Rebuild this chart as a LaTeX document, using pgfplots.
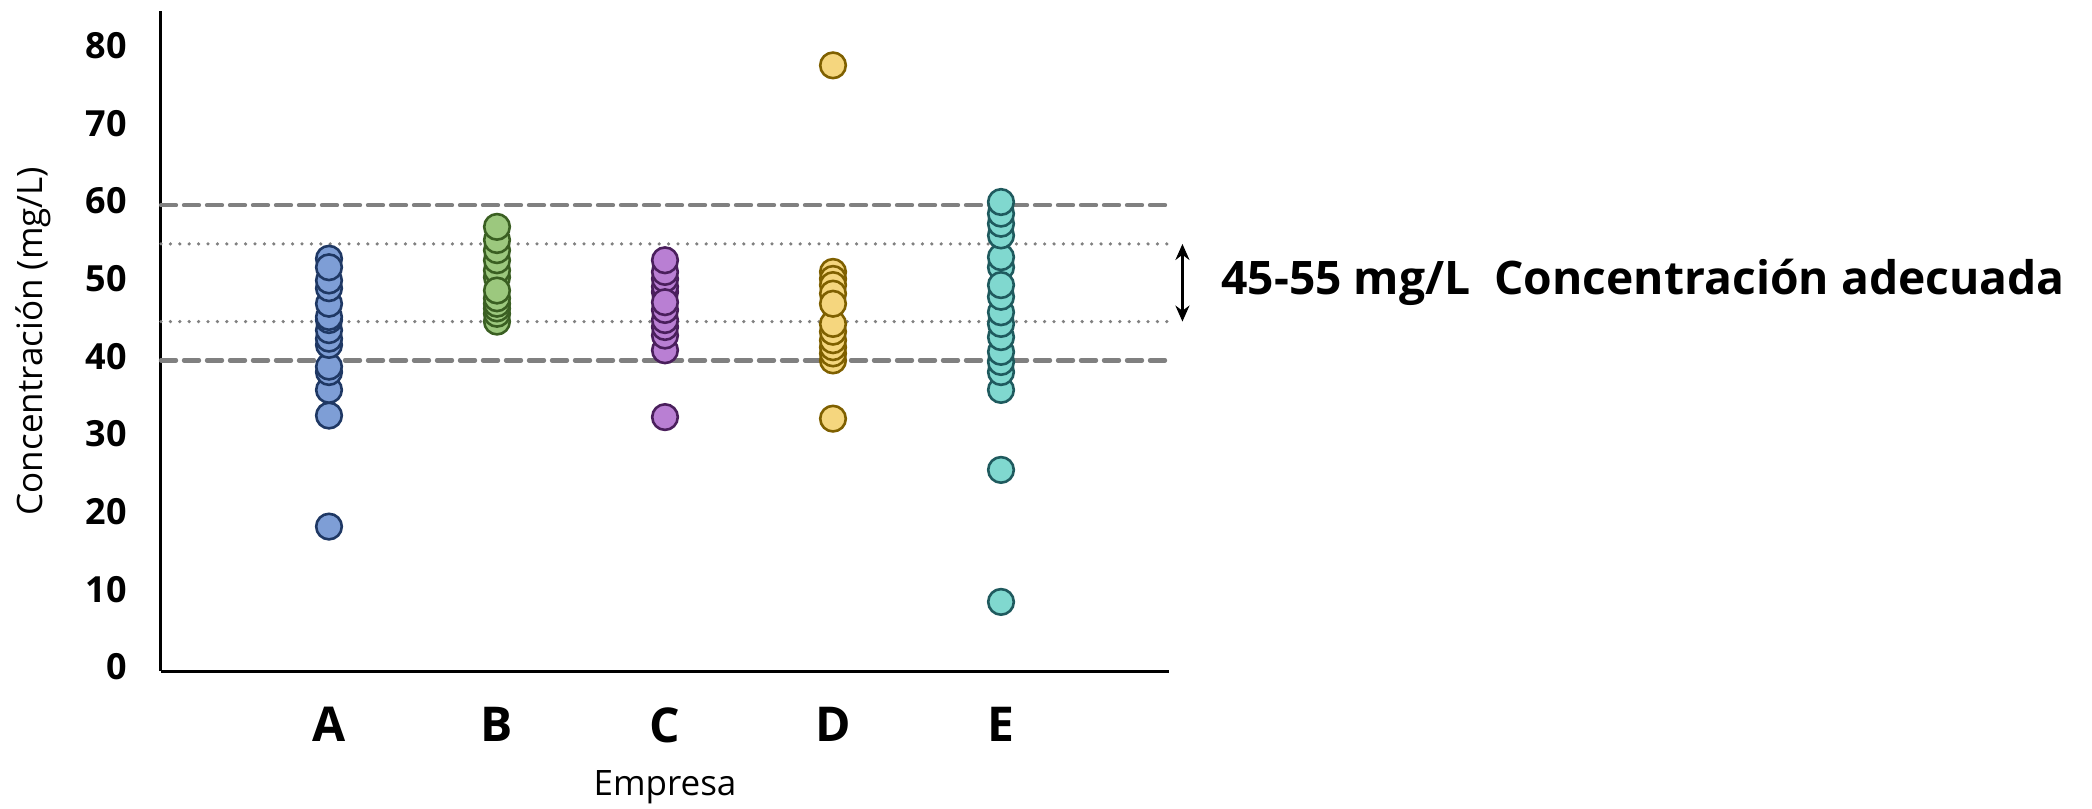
\documentclass[border=0pt]{standalone}
\usepackage{pgfplots}
\pgfplotsset{compat=1.18}
\usepackage{fontspec}
\setmainfont{Open Sans}
\usetikzlibrary{arrows.meta}
\definecolor{Afill}{HTML}{7E9ED6}\definecolor{Aedge}{HTML}{1F3864}
\definecolor{Bfill}{HTML}{9CC87E}\definecolor{Bedge}{HTML}{3A5F22}
\definecolor{Cfill}{HTML}{B97FD3}\definecolor{Cedge}{HTML}{4A1F5C}
\definecolor{Dfill}{HTML}{F5D67E}\definecolor{Dedge}{HTML}{7F6000}
\definecolor{Efill}{HTML}{80D8CF}\definecolor{Eedge}{HTML}{1F5A5E}
\definecolor{refgray}{HTML}{808080}
\begin{document}
\begin{tikzpicture}
\begin{axis}[
  scale only axis, width=504pt, height=330pt,
  xmin=0, xmax=6, ymin=0, ymax=85,
  axis x line*=bottom, axis y line*=left,
  axis line style={line width=1.5pt, -, black},
  xtick={1,2,3,4,5}, xticklabels={A,B,C,D,E},
  ytick={0,10,20,30,40,50,60,70,80},
  major tick length=0pt,
  /pgf/number format/assume math mode=true,
  yticklabel style={font=\fontsize{18}{20}\selectfont\bfseries, anchor=east, inner sep=0pt, xshift=-17pt, yshift=2pt},
  xticklabel style={font=\fontsize{24}{27}\selectfont\bfseries, anchor=north, inner sep=0pt, yshift=-18pt},
  xlabel={Empresa}, ylabel={Concentración (mg/L)},
  xlabel style={font=\fontsize{17.5}{20}\selectfont, at={(axis description cs:0.5,-0.176)}, anchor=center},
  ylabel style={font=\fontsize{17.5}{20}\selectfont, at={(axis description cs:-0.127,0.5)}, anchor=center},
  clip=false,
]
% reference lines
\addplot[refgray, line width=2.2pt, line cap=round, dash pattern=on 7.5pt off 4pt] coordinates {(0,40) (6,40)};
\addplot[refgray, line width=2.2pt, line cap=round, dash pattern=on 7.5pt off 4pt] coordinates {(0,60) (6,60)};
\addplot[refgray, line width=1.8pt, line cap=round, dash pattern=on 0pt off 4.7pt] coordinates {(0,45) (6,45)};
\addplot[refgray, line width=1.8pt, line cap=round, dash pattern=on 0pt off 4.7pt] coordinates {(0,55) (6,55)};
% data
\addplot[only marks, mark=*, mark size=6.4pt, mark options={fill=Afill, draw=Aedge, line width=1.3pt}] coordinates {
(1,18.6) (1,32.9) (1,36.2) (1,38.5) (1,39.2) (1,42.0) (1,42.8) (1,43.9) (1,45.2) (1,45.6) (1,47.3) (1,49.3) (1,50.3) (1,53.1) (1,52.0)};
\addplot[only marks, mark=*, mark size=6.4pt, mark options={fill=Bfill, draw=Bedge, line width=1.3pt}] coordinates {
(2,45.0) (2,46.0) (2,46.7) (2,47.3) (2,48.0) (2,50.7) (2,51.6) (2,52.9) (2,54.2) (2,49.0) (2,55.5) (2,57.2)};
\addplot[only marks, mark=*, mark size=6.4pt, mark options={fill=Cfill, draw=Cedge, line width=1.3pt}] coordinates {
(3,32.7) (3,41.3) (3,43.2) (3,44.3) (3,45.2) (3,48.8) (3,49.5) (3,50.5) (3,51.4) (3,52.9) (3,46.5) (3,47.5)};
\addplot[only marks, mark=*, mark size=6.4pt, mark options={fill=Dfill, draw=Dedge, line width=1.3pt}] coordinates {
(4,32.5) (4,40.0) (4,40.9) (4,41.7) (4,42.6) (4,43.7) (4,44.7) (4,51.4) (4,50.5) (4,49.7) (4,48.6) (4,47.3) (4,78.0)};
\addplot[only marks, mark=*, mark size=6.4pt, mark options={fill=Efill, draw=Eedge, line width=1.3pt}] coordinates {
(5,8.9) (5,25.9) (5,36.2) (5,38.5) (5,39.8) (5,41.1) (5,43.0) (5,44.7) (5,46.2) (5,48.2) (5,52.0) (5,53.3) (5,49.7) (5,56.1) (5,57.6) (5,58.9) (5,60.4)};
% annotation
\draw[{Stealth[length=8pt,width=7pt]}-{Stealth[length=8pt,width=7pt]}, line width=1.5pt] (axis cs:6.08,45) -- (axis cs:6.08,55);
\node[anchor=west, inner sep=0pt, font=\fontsize{23.1}{27}\selectfont\bfseries] at (axis cs:6.31,50) {45-55 mg/L\ \ Concentración adecuada};
\end{axis}
\pgfresetboundingbox
\useasboundingbox ([shift={(-80.5pt,-68.5pt)}]current axis.south west) rectangle ([shift={(965.5pt,335.5pt)}]current axis.south west);
\end{tikzpicture}
\end{document}
